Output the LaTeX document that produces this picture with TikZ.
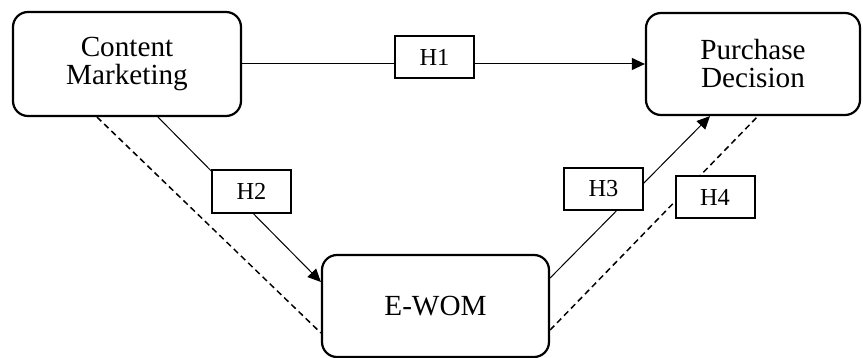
\documentclass[tikz,border=0pt]{standalone}
\usepackage{fontspec}
\setmainfont{Liberation Serif}
\usetikzlibrary{arrows.meta}
\begin{document}
\begin{tikzpicture}[x=0.5pt,y=-0.5pt,
  mainbox/.style={draw, line width=1.1pt, rounded corners=7.5pt, align=center,
    inner sep=0pt, font=\fontsize{14.6}{14}\selectfont},
  hbox/.style={draw, fill=white, line width=1pt, inner sep=0pt,
    minimum width=39.5pt, minimum height=21pt, font=\fontsize{12.2}{12}\selectfont},
  conn/.style={line width=0.5pt, -{Triangle[length=6.5pt,width=6pt]}},
  dashconn/.style={line width=0.75pt, dash pattern=on 3pt off 2pt}]
\useasboundingbox (0,0) rectangle (863,358);
\node[mainbox, minimum width=114pt, minimum height=52pt] (CM) at (127,64) {Content\\Marketing};
\node[mainbox, minimum width=107pt, minimum height=51pt] (PD) at (753,64) {Purchase\\Decision};
\node[mainbox, minimum width=113.5pt, minimum height=51pt] (EW) at (435.5,306) {E-WOM};
% connectors
\draw[conn] (CM.east) -- (PD.west);
\draw[conn] ([xshift=15.5pt]CM.south) -- ([yshift=12pt]EW.west);
\draw[dashconn] ([xshift=-15pt]CM.south) -- ([yshift=-13.5pt]EW.west);
\draw[conn] ([yshift=14pt]EW.east) -- ([xshift=-21.5pt]PD.south);
\draw[dashconn] ([yshift=-12pt]EW.east) -- ([xshift=2.5pt]PD.south);
% hypothesis labels
\node[hbox] (H1) at (434.5,57.5) {H1};
\node[hbox, minimum height=21.5pt] (H2) at (251.5,191.5) {H2};
\node[hbox] (H3) at (603.5,189) {H3};
\node[hbox] (H4) at (715,197) {H4};
\end{tikzpicture}
\end{document}
